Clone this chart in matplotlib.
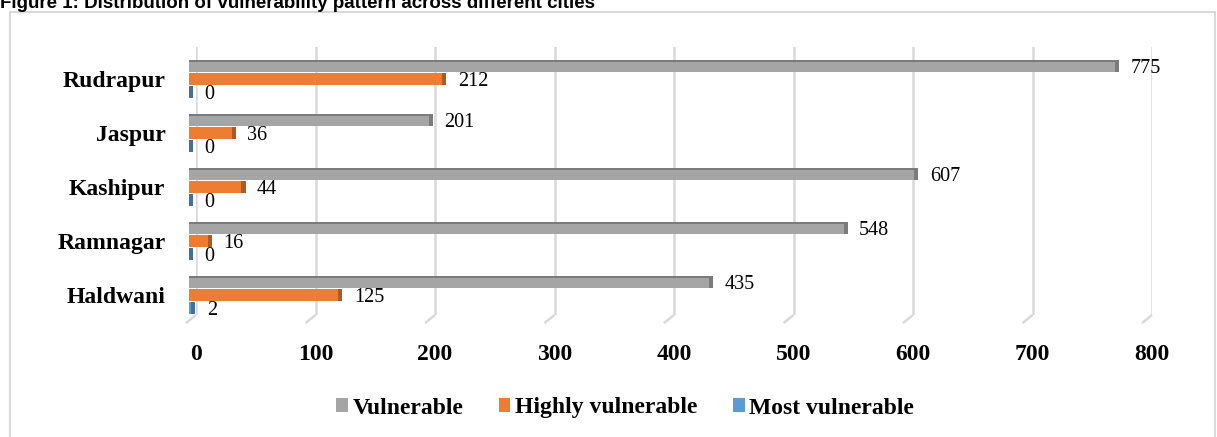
import numpy as np
import matplotlib.pyplot as plt
from matplotlib.patches import Rectangle

# data (bottom -> top as drawn)
cities = ["Haldwani", "Ramnagar", "Kashipur", "Jaspur", "Rudrapur"]
vulnerable = [435, 548, 607, 201, 775]
highly_vulnerable = [125, 16, 44, 36, 212]
most_vulnerable = [2, 0, 0, 0, 0]

series_names = ["Vulnerable", "Highly vulnerable", "Most vulnerable"]
face_colors = ["#a5a5a5", "#ed7d31", "#5b9bd5"]
side_colors = ["#7b7b7b", "#ae5a21", "#41719c"]
xticks = [0, 100, 200, 300, 400, 500, 600, 700, 800]

plt.rcParams['font.family'] = ['Liberation Serif', 'DejaVu Serif']

W, H = 1217, 437
fig = plt.figure(figsize=(W / 100, H / 100), dpi=100)
ax = fig.add_axes([196 / W, 1 - 315 / H, 956 / W, 268 / H])

# chart frame (cut by the page edge)
fig.patches.append(Rectangle((10 / W, -0.02), 1205 / W, 1 - 12 / H + 0.02,
                             transform=fig.transFigure, fill=False,
                             edgecolor="#d9d9d9", linewidth=1.5))

fig.text(0.0, 1 - 8.5 / H, "Figure 1: Distribution of vulnerability pattern across different cities",
         family=['Liberation Sans'], fontweight='bold', fontsize=13.5, va='baseline', ha='left')

y = np.arange(len(cities))
h = 0.23
step = 0.24
offsets = [step, 0, -step]
shift = 6      # 3D depth offset (x units)
cap = 3.5

for k, (vals, off, fc, sc, name) in enumerate(zip([vulnerable, highly_vulnerable, most_vulnerable],
                                                  offsets, face_colors, side_colors, series_names)):
    vals = np.array(vals)
    bars = ax.barh(y + off, vals + shift - 2.5, height=h, left=-shift, color=fc, label=name, zorder=3 + k)
    for b in bars:
        b.set_clip_on(False)
    if k == 0:
        # darker top strip for the 3D look
        strip = ax.barh(y + off + h * 0.40, vals + shift - 2.5, height=h * 0.2, left=-shift,
                        color=sc, zorder=3 + k)
        for b in strip:
            b.set_clip_on(False)
    # end cap
    caps = ax.barh(y + off, cap, height=h, left=vals - 2.5 - cap, color=sc, zorder=3 + k)
    for b in caps:
        b.set_clip_on(False)
    for yi, v in zip(y, vals):
        ax.text(v + 7, yi + off - 0.05, str(v), va='center', ha='left', fontsize=14.5, zorder=8)

ax.set_xlim(0, 800)
ax.set_ylim(-0.37, 4.593)
ax.set_xticks(xticks)
ax.set_xticklabels([str(t) for t in xticks], fontweight='bold', fontsize=17)
ax.set_yticks(y)
ax.set_yticklabels(cities, fontweight='bold', fontsize=17)
ax.tick_params(axis='both', length=0)
ax.tick_params(axis='x', pad=21)
ax.tick_params(axis='y', pad=22)
ax.grid(axis='x', color="#d9d9d9", linewidth=1.8, zorder=0)
ax.set_axisbelow(True)
for s in ax.spines.values():
    s.set_visible(False)

# slanted floor ends of the gridlines
y0 = ax.get_ylim()[0]
for t in xticks:
    ax.plot([t, t - 8.4], [y0, y0 - 0.15], color="#d9d9d9", linewidth=1.8,
            clip_on=False, zorder=0, solid_capstyle='butt')

handles, labels = ax.get_legend_handles_labels()
fig.legend(handles[:3], labels[:3], loc='center', bbox_to_anchor=(625 / W, 1 - 408 / H),
           ncol=3, frameon=False, prop={'weight': 'bold', 'size': 17},
           handlelength=0.5, handleheight=0.5, handletextpad=0.2, columnspacing=1.5)

fig.savefig("out.png", dpi=100)
